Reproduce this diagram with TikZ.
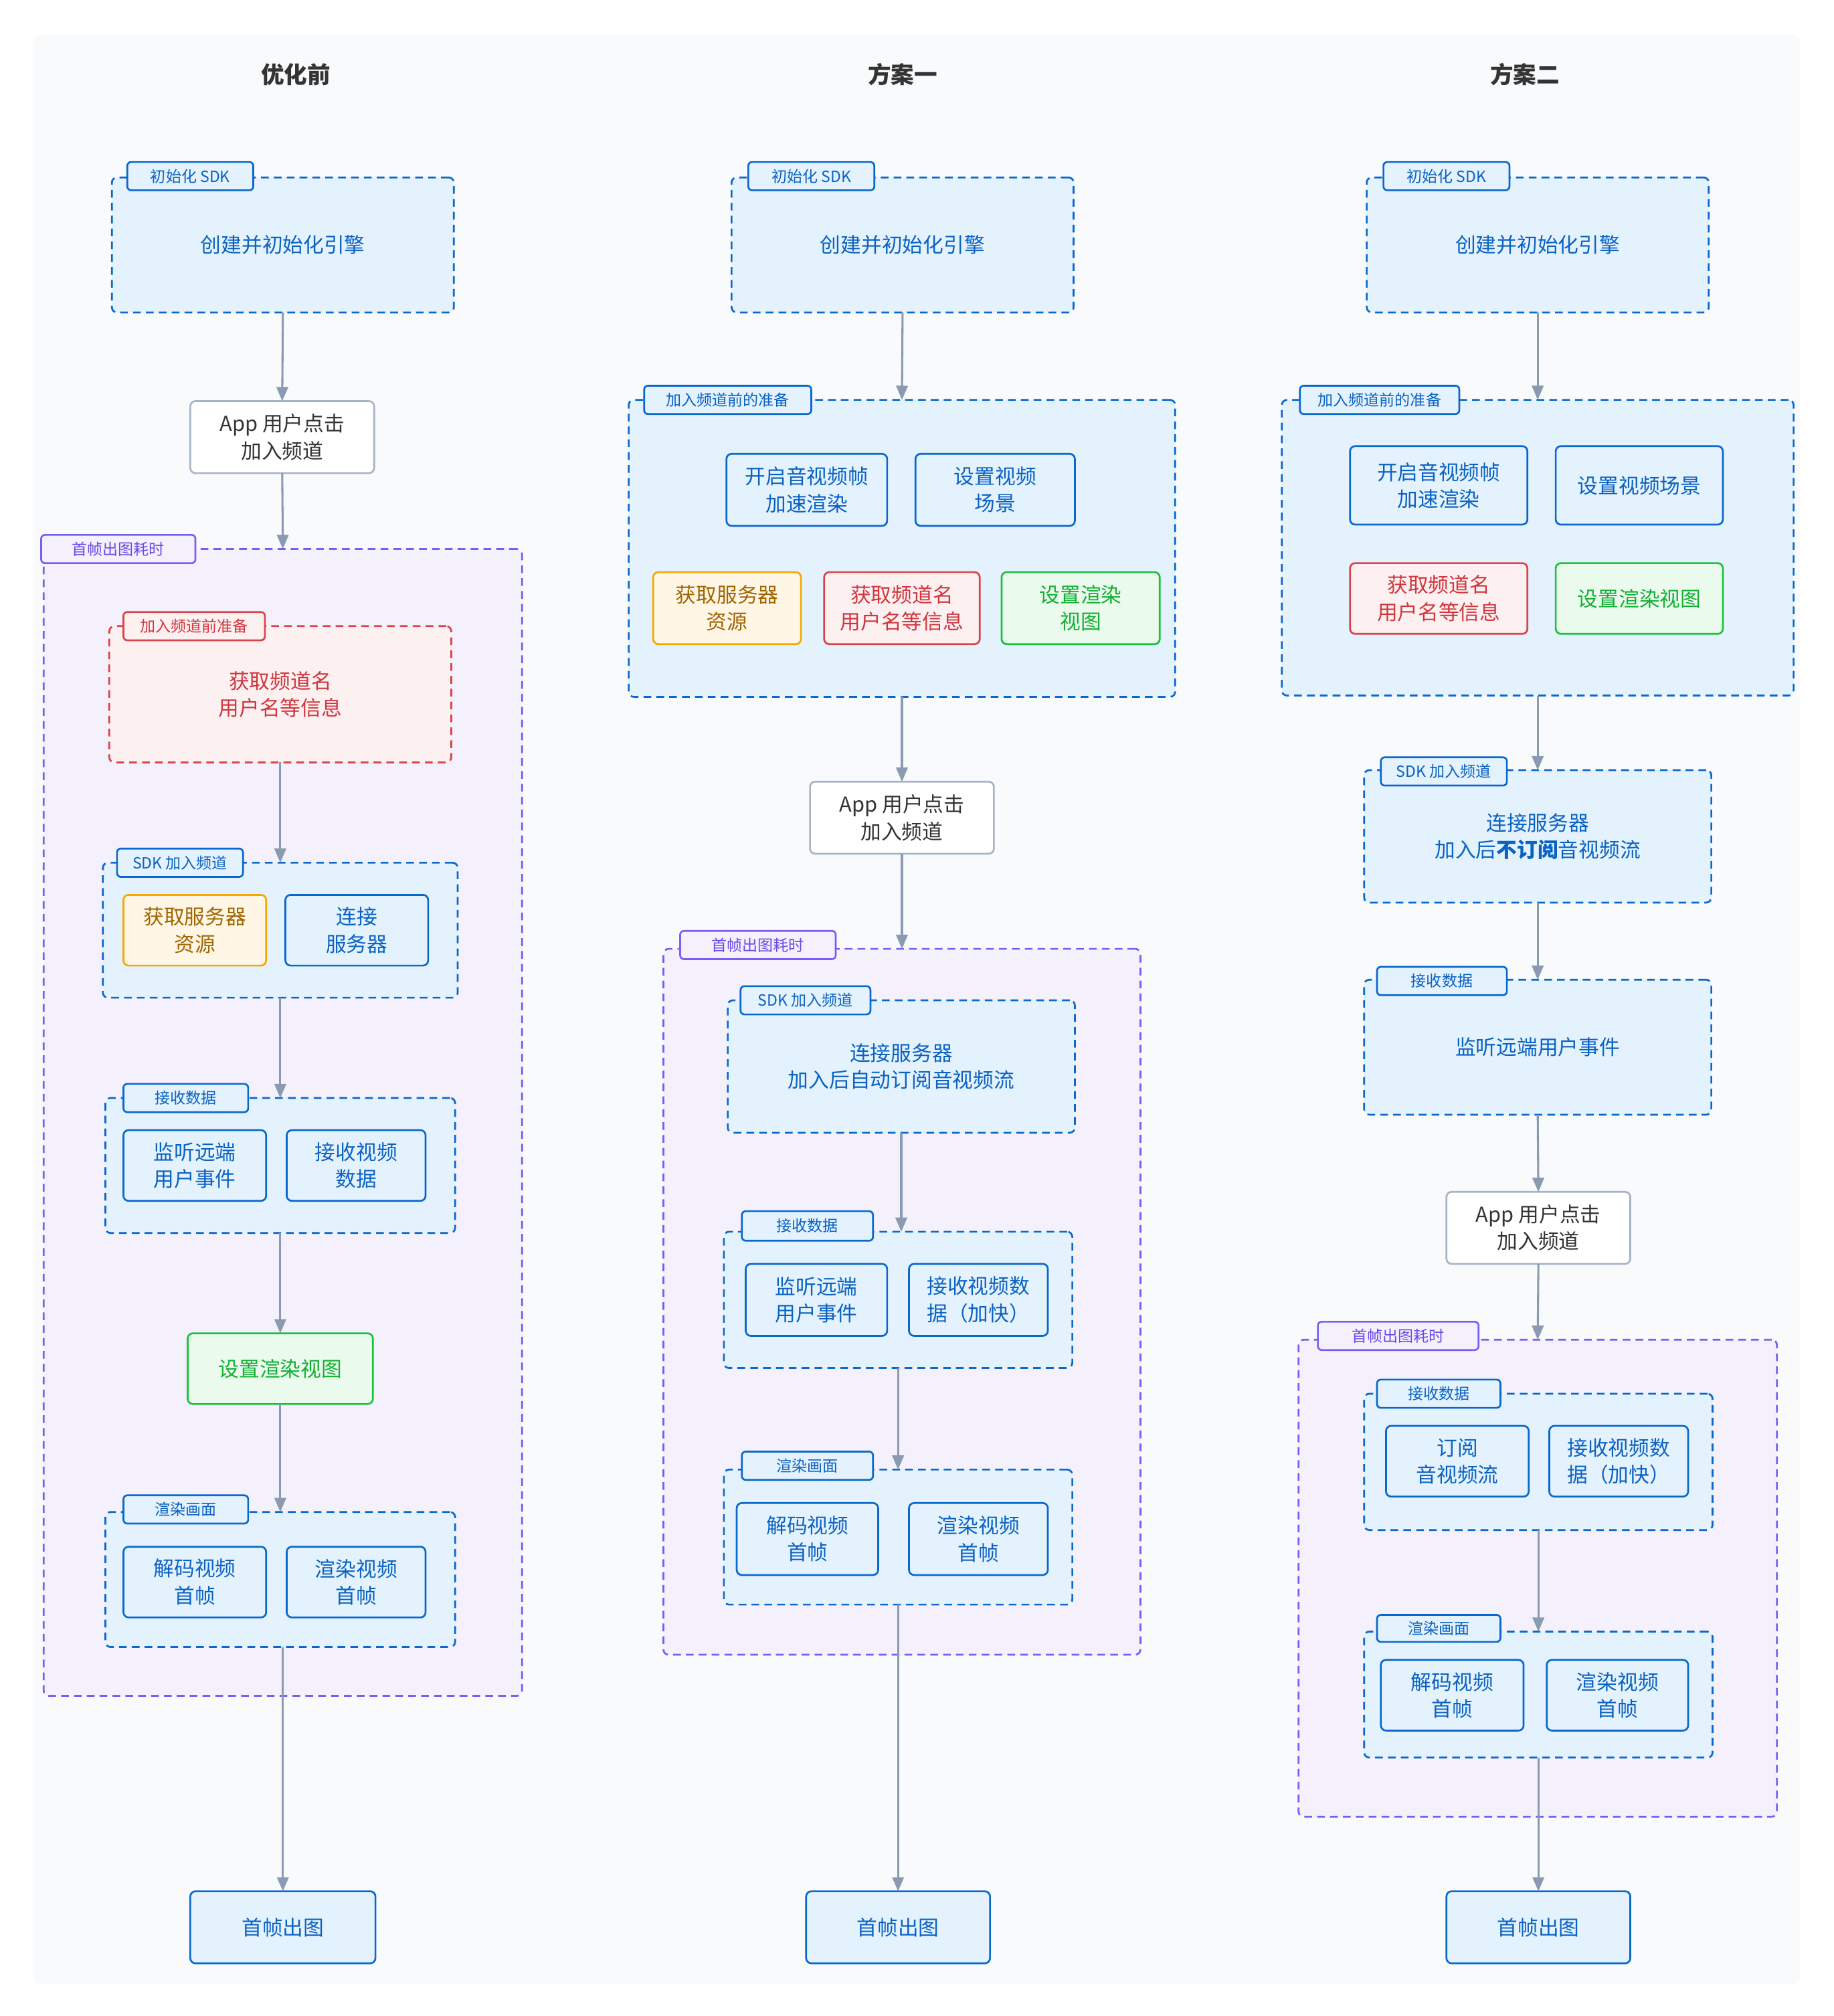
\documentclass[tikz,border=0pt]{standalone}
\usepackage{fontspec}
\setmainfont{Noto Sans CJK SC}
\usetikzlibrary{arrows.meta}
\definecolor{panel}{HTML}{F8FAFC}
\definecolor{bbd}{HTML}{0A68CC}
\definecolor{bfill}{HTML}{E4F2FE}
\definecolor{btx}{HTML}{0A62C2}
\definecolor{pbd}{HTML}{7B5CF5}
\definecolor{pfill}{HTML}{F4F1FD}
\definecolor{ptx}{HTML}{6A48E8}
\definecolor{rbd}{HTML}{D9434B}
\definecolor{rfill}{HTML}{FDF0F0}
\definecolor{rtx}{HTML}{D0363F}
\definecolor{obd}{HTML}{F5A800}
\definecolor{ofill}{HTML}{FFF6E6}
\definecolor{otx}{HTML}{A06600}
\definecolor{gbd}{HTML}{18C23A}
\definecolor{gfill}{HTML}{EAFBEE}
\definecolor{gtx}{HTML}{14B033}
\definecolor{gybd}{HTML}{A6B4C8}
\definecolor{gytx}{HTML}{333333}
\definecolor{arr}{HTML}{8A9AB0}
\definecolor{ttl}{HTML}{333333}
\tikzset{
  base/.style={draw, rounded corners=4pt, inner sep=0pt, outer sep=0pt, align=center,
    line width=1.4pt, font=\fontsize{16}{21}\selectfont},
  dsh/.style={dash pattern=on 6pt off 4pt},
  grpB/.style={base, dsh, draw=bbd, fill=bfill, text=btx},
  grpP/.style={base, dsh, draw=pbd, fill=pfill, text=ptx},
  grpR/.style={base, dsh, draw=rbd, fill=rfill, text=rtx},
  boxB/.style={base, draw=bbd, fill=bfill, text=btx},
  boxO/.style={base, draw=obd, fill=ofill, text=otx},
  boxR/.style={base, draw=rbd, fill=rfill, text=rtx},
  boxG/.style={base, draw=gbd, fill=gfill, text=gtx},
  boxW/.style={base, draw=gybd, fill=white, text=gytx},
  tabB/.style={boxB, rounded corners=3pt, font=\fontsize{12}{14}\selectfont},
  tabP/.style={base, draw=pbd, fill=pfill, text=ptx, rounded corners=3pt, font=\fontsize{12}{14}\selectfont},
  tabR/.style={boxR, rounded corners=3pt, font=\fontsize{12}{14}\selectfont},
  ttlsty/.style={text=ttl, font=\fontsize{18}{22}\selectfont\bfseries, inner sep=0pt},
  conn/.style={draw=arr, line width=1.6pt, -{Triangle[length=11pt,width=9pt]}},
}
\newcommand\bx[7][]{%
  \pgfmathsetmacro\bxcx{(#3+#5)/2}%
  \pgfmathsetmacro\bxcy{(#4+#6)/2}%
  \pgfmathsetmacro\bxw{#5-#3}%
  \pgfmathsetmacro\bxh{#6-#4}%
  \node[#1, minimum width=\bxw pt, minimum height=\bxh pt] (#2) at (\bxcx,\bxcy) {#7};}
\begin{document}
\begin{tikzpicture}[x=1pt,y=-1pt]
\useasboundingbox (0,0) rectangle (1426,1568);
\fill[white] (0,0) rectangle (1426,1568);
\fill[panel, rounded corners=6pt] (26,27) rectangle (1400,1543);

% titles
\node[ttlsty] (title1) at (230,58) {优化前};
\node[ttlsty] (title2) at (702,58) {方案一};
\node[ttlsty] (title3) at (1186,58) {方案二};

% ===== Column 1 =====
\bx[grpB]{c1init}{87}{138}{353}{243}{创建并初始化引擎}
\bx[tabB]{c1initt}{99}{126}{197}{148}{初始化 SDK}
\bx[boxW]{c1app}{148}{312}{291}{368}{App 用户点击\\加入频道}
\bx[grpP]{c1ff}{34}{427}{406}{1319}{}
\bx[tabP]{c1fft}{32}{416}{152}{438}{首帧出图耗时}
\bx[grpR]{c1prep}{85}{487}{351}{593}{获取频道名\\用户名等信息}
\bx[tabR]{c1prept}{96}{476}{206}{498}{加入频道前准备}
\bx[grpB]{c1sdk}{80}{671}{356}{776}{}
\bx[tabB]{c1sdkt}{91}{660}{189}{682}{SDK 加入频道}
\bx[boxO]{c1res}{96}{696}{207}{751}{获取服务器\\资源}
\bx[boxB]{c1conn}{222}{696}{333}{751}{连接\\服务器}
\bx[grpB]{c1recv}{82}{854}{354}{959}{}
\bx[tabB]{c1recvt}{96}{843}{193}{865}{接收数据}
\bx[boxB]{c1lis}{96}{879}{207}{934}{监听远端\\用户事件}
\bx[boxB]{c1rv}{223}{879}{331}{934}{接收视频\\数据}
\bx[boxG]{c1view}{146}{1037}{290}{1092}{设置渲染视图}
\bx[grpB]{c1rend}{82}{1176}{354}{1281}{}
\bx[tabB]{c1rendt}{96}{1163}{193}{1185}{渲染画面}
\bx[boxB]{c1dec}{96}{1203}{207}{1258}{解码视频\\首帧}
\bx[boxB]{c1ren}{223}{1203}{331}{1258}{渲染视频\\首帧}
\bx[boxB]{c1fin}{148}{1471}{292}{1527}{首帧出图}

% ===== Column 2 =====
\bx[grpB]{c2init}{569}{138}{835}{243}{创建并初始化引擎}
\bx[tabB]{c2initt}{582}{126}{680}{148}{初始化 SDK}
\bx[grpB]{c2prep}{489}{311}{914}{542}{}
\bx[tabB]{c2prept}{501}{300}{631}{322}{加入频道前的准备}
\bx[boxB]{c2acc}{565}{353}{690}{409}{开启音视频帧\\加速渲染}
\bx[boxB]{c2scn}{712}{353}{836}{409}{设置视频\\场景}
\bx[boxO]{c2res}{508}{445}{623}{501}{获取服务器\\资源}
\bx[boxR]{c2chn}{641}{445}{762}{501}{获取频道名\\用户名等信息}
\bx[boxG]{c2view}{779}{445}{902}{501}{设置渲染\\视图}
\bx[boxW]{c2app}{630}{608}{773}{664}{App 用户点击\\加入频道}
\bx[grpP]{c2ff}{516}{738}{887}{1287}{}
\bx[tabP]{c2fft}{529}{724}{650}{746}{首帧出图耗时}
\bx[grpB]{c2sdk}{566}{778}{836}{881}{连接服务器\\加入后自动订阅音视频流}
\bx[tabB]{c2sdkt}{576}{767}{677}{789}{SDK 加入频道}
\bx[grpB]{c2recv}{563}{958}{834}{1064}{}
\bx[tabB]{c2recvt}{577}{942}{679}{965}{接收数据}
\bx[boxB]{c2lis}{580}{983}{690}{1039}{监听远端\\用户事件}
\bx[boxB]{c2rv}{707}{983}{815}{1039}{接收视频数\\据（加快）}
\bx[grpB]{c2rend}{563}{1143}{834}{1248}{}
\bx[tabB]{c2rendt}{577}{1129}{679}{1151}{渲染画面}
\bx[boxB]{c2dec}{573}{1169}{683}{1225}{解码视频\\首帧}
\bx[boxB]{c2ren}{707}{1169}{815}{1225}{渲染视频\\首帧}
\bx[boxB]{c2fin}{627}{1471}{770}{1527}{首帧出图}

% ===== Column 3 =====
\bx[grpB]{c3init}{1063}{138}{1329}{243}{创建并初始化引擎}
\bx[tabB]{c3initt}{1076}{126}{1174}{148}{初始化 SDK}
\bx[grpB]{c3prep}{997}{311}{1395}{541}{}
\bx[tabB]{c3prept}{1011}{300}{1135}{322}{加入频道前的准备}
\bx[boxB]{c3acc}{1050}{347}{1188}{408}{开启音视频帧\\加速渲染}
\bx[boxB]{c3scn}{1210}{347}{1340}{408}{设置视频场景}
\bx[boxR]{c3chn}{1050}{438}{1188}{493}{获取频道名\\用户名等信息}
\bx[boxG]{c3view}{1210}{438}{1340}{493}{设置渲染视图}
\bx[grpB]{c3sdk}{1061}{599}{1331}{702}{连接服务器\\加入后\textbf{不订阅}音视频流}
\bx[tabB]{c3sdkt}{1074}{589}{1172}{611}{SDK 加入频道}
\bx[grpB]{c3evt}{1061}{762}{1331}{867}{监听远端用户事件}
\bx[tabB]{c3evtt}{1071}{752}{1172}{774}{接收数据}
\bx[boxW]{c3app}{1125}{927}{1268}{983}{App 用户点击\\加入频道}
\bx[grpP]{c3ff}{1010}{1042}{1382}{1413}{}
\bx[tabP]{c3fft}{1025}{1028}{1150}{1050}{首帧出图耗时}
\bx[grpB]{c3recv}{1061}{1084}{1332}{1190}{}
\bx[tabB]{c3recvt}{1071}{1073}{1167}{1095}{接收数据}
\bx[boxB]{c3sub}{1078}{1109}{1189}{1164}{订阅\\音视频流}
\bx[boxB]{c3rv}{1205}{1109}{1313}{1164}{接收视频数\\据（加快）}
\bx[grpB]{c3rend}{1061}{1269}{1332}{1367}{}
\bx[tabB]{c3rendt}{1071}{1256}{1167}{1277}{渲染画面}
\bx[boxB]{c3dec}{1074}{1291}{1185}{1346}{解码视频\\首帧}
\bx[boxB]{c3ren}{1203}{1291}{1313}{1346}{渲染视频\\首帧}
\bx[boxB]{c3fin}{1125}{1471}{1268}{1527}{首帧出图}

% ===== connectors =====
\draw[conn] (c1init.south) -- (c1app.north);
\draw[conn] (c1app.south) -- (c1ff.north);
\draw[conn] (c1prep.south) -- (c1sdk.north);
\draw[conn] (c1sdk.south) -- (c1recv.north);
\draw[conn] (c1recv.south) -- (c1view.north);
\draw[conn] (c1view.south) -- (c1rend.north);
\draw[conn] (c1rend.south -| c1fin.north) -- (c1fin.north);

\draw[conn] (c2init.south) -- (c2prep.north);
\draw[conn] (c2prep.south) -- (c2app.north);
\draw[conn] (c2app.south) -- (c2ff.north);
\draw[conn] (c2sdk.south) -- (c2sdk.south |- c2recv.north);
\draw[conn] (c2recv.south) -- (c2rend.north);
\draw[conn] (c2rend.south) -- (c2fin.north);

\draw[conn] (c3init.south) -- (c3prep.north);
\draw[conn] (c3prep.south) -- (c3sdk.north);
\draw[conn] (c3sdk.south) -- (c3evt.north);
\draw[conn] (c3evt.south) -- (c3app.north);
\draw[conn] (c3app.south) -- (c3ff.north);
\draw[conn] (c3recv.south) -- (c3rend.north);
\draw[conn] (c3rend.south) -- (c3fin.north);
\end{tikzpicture}
\end{document}
